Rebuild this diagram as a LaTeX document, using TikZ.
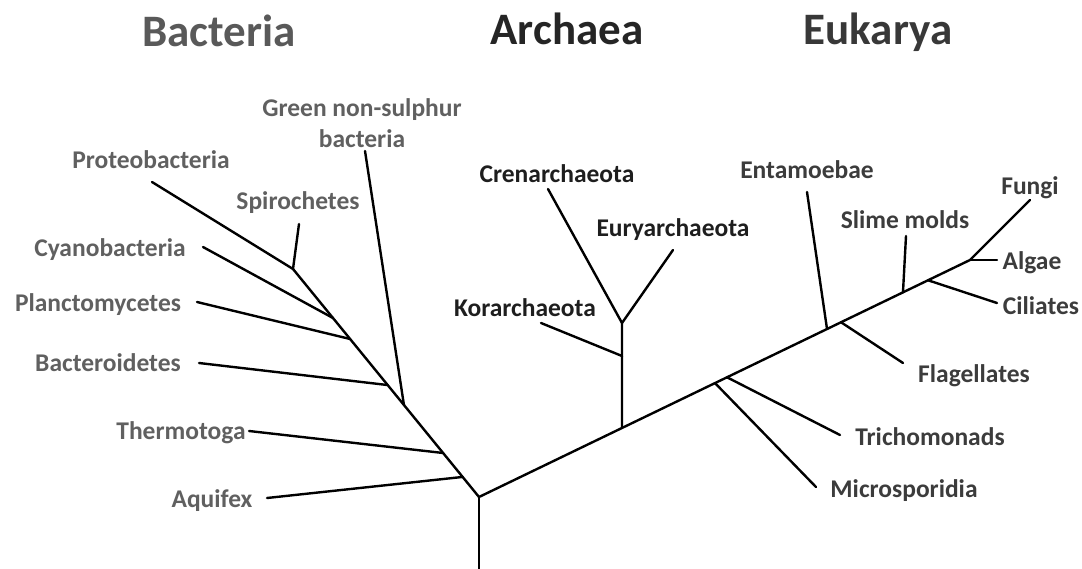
\documentclass[tikz,border=0pt]{standalone}
\usepackage{fontspec}
\setmainfont{Carlito}
\usetikzlibrary{calc}
\definecolor{bactT}{HTML}{595959}
\definecolor{bactL}{HTML}{606060}
\definecolor{archT}{HTML}{252525}
\definecolor{archL}{HTML}{1E1E1E}
\definecolor{eukT}{HTML}{383838}
\definecolor{eukL}{HTML}{3C3C3C}
\tikzset{
  branch/.style={line width=2.4pt, line cap=round, line join=round, black},
  title/.style={font=\bfseries\fontsize{45}{54}\selectfont, anchor=base, inner sep=0pt},
  lab/.style={font=\bfseries\fontsize{25.5}{31}\selectfont, anchor=base, inner sep=0pt, align=center},
}
\begin{document}
\begin{tikzpicture}[x=1pt,y=-1pt]
\useasboundingbox (0,0) rectangle (1082,569);
% titles
\node[title, text=bactT] (tB) at (219,47) {Bacteria};
\node[title, text=archT] (tA) at (567,45) {Archaea};
\node[title, text=eukT]  (tE) at (878,45) {Eukarya};

% labels: bacteria
\node[lab, text=bactL] (green) at (362,148) {Green non-sulphur\\bacteria};
\node[lab, text=bactL] (proteo) at (151,169) {Proteobacteria};
\node[lab, text=bactL] (spiro) at (298,210) {Spirochetes};
\node[lab, text=bactL] (cyano) at (110,257) {Cyanobacteria};
\node[lab, text=bactL] (plancto) at (98,312) {Planctomycetes};
\node[lab, text=bactL] (bactero) at (108,372) {Bacteroidetes};
\node[lab, text=bactL] (thermo) at (181,439) {Thermotoga};
\node[lab, text=bactL] (aquifex) at (212,507) {Aquifex};
% labels: archaea
\node[lab, text=archL] (cren) at (557,183) {Crenarchaeota};
\node[lab, text=archL] (eury) at (673,237) {Euryarchaeota};
\node[lab, text=archL] (kor) at (525,317) {Korarchaeota};
% labels: eukarya
\node[lab, text=eukL] (entam) at (807,179) {Entamoebae};
\node[lab, text=eukL] (slime) at (905,229) {Slime molds};
\node[lab, text=eukL] (fungi) at (1030,195) {Fungi};
\node[lab, text=eukL] (algae) at (1032,270) {Algae};
\node[lab, text=eukL] (cil) at (1041,315) {Ciliates};
\node[lab, text=eukL] (flag) at (974,382) {Flagellates};
\node[lab, text=eukL] (tricho) at (930,445) {Trichomonads};
\node[lab, text=eukL] (micro) at (904,497) {Microsporidia};

% skeleton
\coordinate (root) at (479,497);
\coordinate (base) at (479,569);
\coordinate (btop) at (293,269);
\coordinate (etop) at (970,260);
% bacteria joins
\coordinate (jAq) at ($(root)!0.088!(btop)$);
\coordinate (jTh) at ($(root)!0.193!(btop)$);
\coordinate (jGr) at ($(root)!0.4035!(btop)$);
\coordinate (jBa) at ($(root)!0.491!(btop)$);
\coordinate (jPl) at ($(root)!0.693!(btop)$);
\coordinate (jCy) at ($(root)!0.785!(btop)$);
% archaea / eukarya joins
\coordinate (jAr) at ($(root)!0.2912!(etop)$);
\coordinate (jMi) at ($(root)!0.4807!(etop)$);
\coordinate (jTr) at ($(root)!0.5051!(etop)$);
\coordinate (jEn) at ($(root)!0.7088!(etop)$);
\coordinate (jFl) at ($(root)!0.7373!(etop)$);
\coordinate (jSl) at ($(root)!0.8635!(etop)$);
\coordinate (jCi) at ($(root)!0.9145!(etop)$);
\coordinate (aK) at (622,356);
\coordinate (aV) at (622,323);
% free ends
\coordinate (eAq) at (267,498);
\coordinate (eTh) at (249,431);
\coordinate (eGr) at (365,151);
\coordinate (eBa) at (199,363);
\coordinate (ePl) at (197,302);
\coordinate (eCy) at (203,247);
\coordinate (ePr) at (152,182);
\coordinate (eSp) at (299,224);
\coordinate (eCr) at (548,189);
\coordinate (eEu) at (673,250);
\coordinate (eKo) at (541,323);
\coordinate (eMi) at (816,487);
\coordinate (eTr) at (840,435);
\coordinate (eEn) at (807,192);
\coordinate (eFl) at (903,363);
\coordinate (eSl) at (906,236);
\coordinate (eCi) at (997,303);
\coordinate (eAl) at (997,260);
\coordinate (eFu) at (1030,200);

% branches
\draw[branch] (base) -- (root);
\draw[branch] (root) -- (btop);
\draw[branch] (root) -- (etop);
\draw[branch] (eAq) -- (jAq);
\draw[branch] (eTh) -- (jTh);
\draw[branch] (eGr) -- (jGr);
\draw[branch] (eBa) -- (jBa);
\draw[branch] (ePl) -- (jPl);
\draw[branch] (eCy) -- (jCy);
\draw[branch] (ePr) -- (btop);
\draw[branch] (eSp) -- (btop);
\draw[branch] (jAr) -- (aV);
\draw[branch] (eKo) -- (aK);
\draw[branch] (eCr) -- (aV);
\draw[branch] (eEu) -- (aV);
\draw[branch] (eMi) -- (jMi);
\draw[branch] (eTr) -- (jTr);
\draw[branch] (eEn) -- (jEn);
\draw[branch] (eFl) -- (jFl);
\draw[branch] (eSl) -- (jSl);
\draw[branch] (eCi) -- (jCi);
\draw[branch] (eAl) -- (etop);
\draw[branch] (eFu) -- (etop);
\end{tikzpicture}
\end{document}
